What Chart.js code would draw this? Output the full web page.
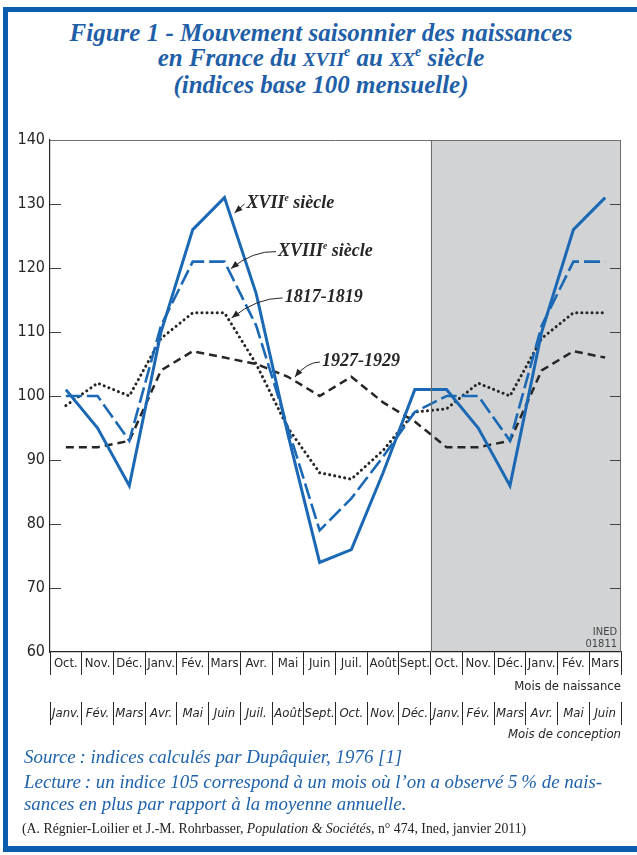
<!DOCTYPE html>
<html lang="fr">
<head>
<meta charset="utf-8">
<script src="https://cdn.jsdelivr.net/npm/chart.js@4.4.1/dist/chart.umd.min.js"></script>
<style>
  html, body { margin: 0; padding: 0; background: #fff; }
  body { width: 637px; height: 855px; position: relative; overflow: hidden; }
  .bar { position: absolute; background: #0b5ead; }
  #title {
    position: absolute; left: 0; top: 20px; width: 642px; text-align: center;
    color: #1f5fa8; font: italic bold 25px "Liberation Serif", serif; line-height: 25px;
  }
  #title .sc { font-size: 0.78em; }
  #title sup { font-size: 0.55em; vertical-align: baseline; position: relative; top: -0.75em; line-height: 0; }
  #chartBox { position: absolute; left: 0; top: 120px; width: 637px; height: 627px; }
  .note { position: absolute; left: 24px; margin: 0; color: #1f63ad; font: italic 18.9px "Liberation Serif", serif; }
  .cite { position: absolute; left: 22px; top: 821px; margin: 0; color: #222; font: 13.8px "Liberation Serif", serif; line-height: 16px; }
</style>
</head>
<body>
<div class="bar" style="left:3px;top:7px;width:634px;height:5px"></div>
<div class="bar" style="left:3px;top:7px;width:5px;height:845px"></div>
<div class="bar" style="left:3px;top:846px;width:634px;height:6px"></div>

<div id="title">Figure 1 - Mouvement saisonnier des naissances<br>
en France du <span class="sc">XVII</span><sup>e</sup> au <span class="sc">XX</span><sup>e</sup> siècle<br>
(indices base 100 mensuelle)</div>

<div id="chartBox"><canvas id="chart" width="637" height="627"></canvas></div>

<p class="note" style="top:745px;line-height:24px">Source&#8239;: indices calculés par Dupâquier, 1976 [1]</p>
<p class="note" style="top:771px;line-height:22px">Lecture&#8239;: un indice 105 correspond à un mois où l’on a observé 5&#8239;% de nais-<br>sances en plus par rapport à la moyenne annuelle.</p>
<p class="cite">(A. Régnier-Loilier et J.-M. Rohrbasser, <i>Population &amp; Sociétés</i>, n° 474, Ined, janvier 2011)</p>

<script>
// months (birth row and conception row)
const naissance = ["Oct.", "Nov.", "Déc.", "Janv.", "Fév.", "Mars", "Avr.", "Mai", "Juin", "Juil.", "Août", "Sept.",
  "Oct.", "Nov.", "Déc.", "Janv.", "Fév.", "Mars"];
const conception = ["Janv.", "Fév.", "Mars", "Avr.", "Mai", "Juin", "Juil.", "Août", "Sept.", "Oct.", "Nov.", "Déc.",
  "Janv.", "Fév.", "Mars", "Avr.", "Mai", "Juin"];

// indices
const xvii = [101, 95, 86, 110, 126, 131, 116, 94, 74, 76, 88, 101, 101, 95, 86, 110, 126, 131];
const xviii = [100, 100, 93, 111, 121, 121, 111, 95, 79, 84, 90.5, 97.5, 100, 100, 93, 111, 121, 121];
const y1817 = [98.5, 102, 100, 109, 113, 113, 105, 95, 88, 87, 91.5, 97.5, 98, 102, 100, 109, 113, 113];
const y1927 = [92, 92, 93, 104, 107, 106, 105, 103, 100, 103, 99, 96, 92, 92, 93, 104, 107, 106];

const yMin = 60, yMax = 140, yStep = 10;
const shadeFrom = 12; // repeated months start here

const blue = "#1b68b4";
const ink = "#262626";
const cond = '"DejaVu Sans Condensed", "Liberation Sans Narrow", sans-serif';
const serif = '"Liberation Serif", serif';

// label + arrow for each curve: dataset, position along the line, arrow offsets
const notes = [
  { ds: 0, at: 5.16, dx: 5, dy: 0, tail: [10, -9], bend: null, text: "XVII", rest: " siècle" },
  { ds: 1, at: 5.11, dx: 3, dy: 0, tail: [45, -17], bend: [22, -18], text: "XVIII", rest: " siècle" },
  { ds: 2, at: 5.10, dx: 4, dy: 0, tail: [51, -20], bend: [25, -20], text: "1817-1819", rest: "" },
  { ds: 3, at: 7.22, dx: 0, dy: -4, tail: [25, -15], bend: [12, -15], text: "1927-1929", rest: "" }
];

// grey block behind the repeated months
const shade = {
  id: "shade",
  beforeDraw(c) {
    const { ctx, chartArea: a, scales: { x } } = c;
    const sx = (x.getPixelForValue(shadeFrom - 1) + x.getPixelForValue(shadeFrom)) / 2;
    ctx.save();
    ctx.fillStyle = "#d1d3d4";
    ctx.fillRect(sx, a.top, a.right - sx, a.bottom - a.top);
    ctx.restore();
  }
};

// frame, inner ticks, divider, INED mark
const frame = {
  id: "frame",
  afterDatasetsDraw(c) {
    const { ctx, chartArea: a, scales: { x, y } } = c;
    const sx = (x.getPixelForValue(shadeFrom - 1) + x.getPixelForValue(shadeFrom)) / 2;
    ctx.save();
    ctx.lineWidth = 1;
    ctx.strokeStyle = "#6d6e70";
    ctx.beginPath();
    ctx.moveTo(a.left, a.top + 0.5); ctx.lineTo(a.right, a.top + 0.5);
    ctx.moveTo(a.right - 0.5, a.top); ctx.lineTo(a.right - 0.5, a.bottom);
    ctx.moveTo(Math.round(sx) + 0.5, a.top); ctx.lineTo(Math.round(sx) + 0.5, a.bottom);
    ctx.stroke();
    ctx.beginPath();
    for (let v = yMin + yStep; v < yMax; v += yStep) {
      const py = Math.round(y.getPixelForValue(v)) + 0.5;
      ctx.moveTo(a.left, py); ctx.lineTo(a.left + 11, py);
      ctx.moveTo(a.right - 11, py); ctx.lineTo(a.right, py);
    }
    ctx.strokeStyle = "#444";
    ctx.stroke();
    ctx.fillStyle = "#444";
    ctx.font = "11px " + cond;
    ctx.textAlign = "right";
    ctx.textBaseline = "alphabetic";
    ctx.fillText("INED", a.right - 4, a.bottom - 17);
    ctx.fillText("01811", a.right - 4, a.bottom - 5);
    ctx.restore();
  }
};

// curve names with arrows
const labels = {
  id: "labels",
  afterDatasetsDraw(c) {
    const { ctx, scales: { x, y } } = c;
    ctx.save();
    notes.forEach(n => {
      const data = c.data.datasets[n.ds].data;
      const i = Math.floor(n.at), f = n.at - i;
      const px = x.getPixelForValue(i) + f * (x.getPixelForValue(i + 1) - x.getPixelForValue(i));
      const v = data[i] + f * (data[i + 1] - data[i]);
      const tx = px + n.dx, ty = y.getPixelForValue(v) + n.dy;
      const sx = tx + n.tail[0], sy = ty + n.tail[1];

      ctx.strokeStyle = ink;
      ctx.fillStyle = ink;
      ctx.lineWidth = 1;
      ctx.beginPath();
      ctx.moveTo(sx, sy);
      let fromX = sx, fromY = sy;
      if (n.bend) {
        const cx = tx + n.bend[0], cy = ty + n.bend[1];
        ctx.quadraticCurveTo(cx, cy, tx, ty);
        fromX = cx; fromY = cy;
      } else {
        ctx.lineTo(tx, ty);
      }
      ctx.stroke();
      // arrow head
      const ang = Math.atan2(ty - fromY, tx - fromX);
      const len = 8, w = 3.2;
      ctx.beginPath();
      ctx.moveTo(tx, ty);
      ctx.lineTo(tx - len * Math.cos(ang) + w * Math.sin(ang), ty - len * Math.sin(ang) - w * Math.cos(ang));
      ctx.lineTo(tx - len * Math.cos(ang) - w * Math.sin(ang), ty - len * Math.sin(ang) + w * Math.cos(ang));
      ctx.closePath();
      ctx.fill();

      // text
      let lx = sx + 2;
      const ly = sy + 4;
      ctx.textAlign = "left";
      ctx.textBaseline = "alphabetic";
      ctx.font = "italic bold 18px " + serif;
      ctx.fillText(n.text, lx, ly);
      lx += ctx.measureText(n.text).width;
      if (n.rest) {
        ctx.font = "italic bold 9.5px " + serif;
        ctx.fillText("e", lx, ly - 7);
        lx += ctx.measureText("e").width;
        ctx.font = "italic bold 18px " + serif;
        ctx.fillText(n.rest, lx, ly);
      }
    });
    ctx.restore();
  }
};

const rowGrid = { offset: true, drawOnChartArea: false, drawTicks: true, tickLength: 23, color: ink, lineWidth: 1 };

new Chart(document.getElementById("chart"), {
  type: "line",
  data: {
    labels: naissance,
    datasets: [
      { label: "XVIIe siècle", data: xvii, borderColor: blue, borderWidth: 3, borderJoinStyle: "miter" },
      { label: "XVIIIe siècle", data: xviii, borderColor: blue, borderWidth: 2.6, borderDash: [16, 5], borderJoinStyle: "miter" },
      { label: "1817-1819", data: y1817, borderColor: ink, borderWidth: 3, borderDash: [0.1, 5], borderCapStyle: "round" },
      { label: "1927-1929", data: y1927, borderColor: ink, borderWidth: 2.5, borderDash: [8, 5], borderJoinStyle: "miter" }
    ]
  },
  options: {
    responsive: false,
    animation: false,
    elements: { point: { radius: 0 }, line: { tension: 0 } },
    layout: { padding: { left: 0, right: 16, top: 20, bottom: 3 } },
    plugins: { legend: { display: false }, tooltip: { enabled: false } },
    scales: {
      x: {
        type: "category", labels: naissance, offset: true, position: "bottom", weight: 0,
        grid: rowGrid,
        border: { display: true, color: ink, width: 1.2 },
        ticks: { padding: -19, color: ink, autoSkip: false, maxRotation: 0, font: { family: cond, size: 13 } },
        title: { display: true, text: "Mois de naissance", align: "end", color: ink,
          font: { family: cond, size: 13 }, padding: { top: 0, bottom: 8 } },
        afterFit: s => { s.height = 50; }
      },
      x2: {
        type: "category", labels: conception, offset: true, position: "bottom", weight: 1,
        grid: rowGrid,
        border: { display: false },
        ticks: { padding: -19, color: ink, autoSkip: false, maxRotation: 0,
          font: { family: cond, size: 13, style: "italic" } },
        title: { display: true, text: "Mois de conception", align: "end", color: ink,
          font: { family: cond, size: 13, style: "italic" }, padding: { top: 0, bottom: 2 } },
        afterFit: s => { s.height = 42; }
      },
      y: {
        min: yMin, max: yMax,
        ticks: { stepSize: yStep, padding: 5, color: ink, font: { family: cond, size: 16 } },
        grid: { display: false, drawTicks: false },
        border: { display: true, color: ink, width: 1.2 },
        afterFit: s => { s.width = 50; }
      }
    }
  },
  plugins: [shade, frame, labels]
});
</script>
</body>
</html>
